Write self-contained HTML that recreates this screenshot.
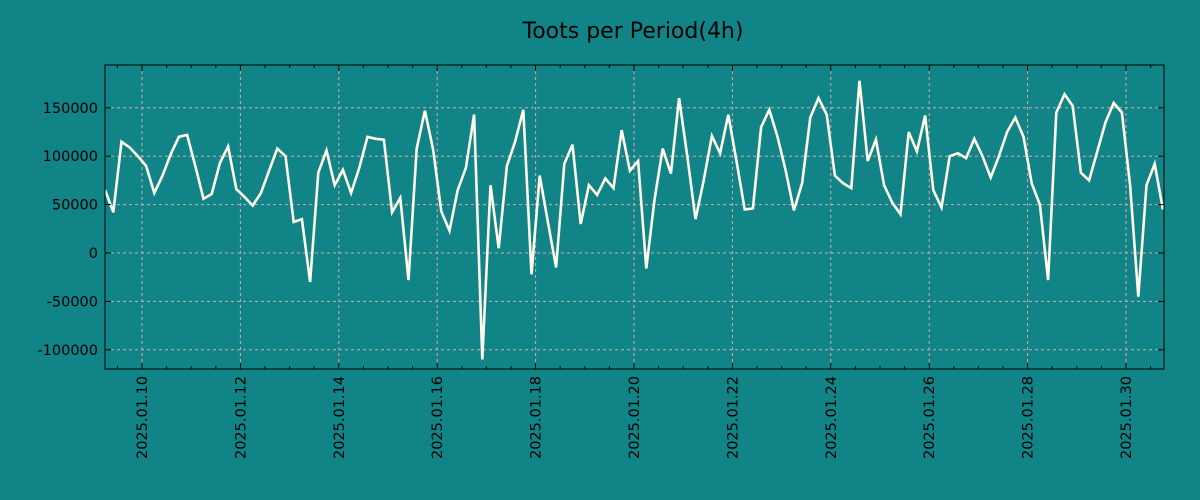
<!DOCTYPE html>
<html><head><meta charset="utf-8"><style>
body{margin:0;background:#108486;}
svg{display:block;font-family:"DejaVu Sans","Liberation Sans",sans-serif;}
</style></head><body>
<svg id="chart" width="1200" height="500" xmlns="http://www.w3.org/2000/svg">
<rect width="1200" height="500" fill="#108486"/>
<text x="633" y="38" text-anchor="middle" font-size="22" fill="#000">Toots per Period(4h)</text>
<g id="grid"></g><g id="series"></g><g id="axes"></g>
</svg>
<script>
const startDayOffset = -0.75; // days relative to 2025.01.10
const stepDays = 4/24;
const values = [65,42,115,109,100,90,62,80,102,120,122,90,56,61,93,110,66,58,49,62,85,108,100,32,35,-30,83,106,70,86,62,88,120,118,117,42,57,-28,108,147,107,43,23,65,88,143,-110,70,5,90,115,148,-22,80,32,-15,92,112,30,70,60,77,67,127,85,95,-16,55,108,82,160,100,35,75,121,103,143,95,45,46,130,148,120,85,44,72,140,160,143,80,72,67,178,95,117,70,52,40,125,105,142,65,47,100,103,98,118,100,78,100,125,140,120,72,50,-28,145,164,152,83,75,105,135,155,145,70,-45,70,92,45].map(v=>v*1000);
const yTicks = [-100000,-50000,0,50000,100000,150000];
const xTickLabels = ["2025.01.10","2025.01.12","2025.01.14","2025.01.16","2025.01.18","2025.01.20","2025.01.22","2025.01.24","2025.01.26","2025.01.28","2025.01.30"];
const xTickDays = [0,2,4,6,8,10,12,14,16,18,20];

const L=105,R=1164,T=65,B=369;
const xs=d=>142+d*49.2;
const ys=v=>253-v/50000*48.4;
const NS="http://www.w3.org/2000/svg";
function mk(tag,attrs,parent){const e=document.createElementNS(NS,tag);for(const k in attrs)e.setAttribute(k,attrs[k]);parent.appendChild(e);return e;}
const grid=document.getElementById('grid'),axes=document.getElementById('axes'),series=document.getElementById('series');
yTicks.forEach(v=>{
 const l=mk('line',{x1:L,x2:R,y1:ys(v),y2:ys(v),stroke:'#d8a8a8',"stroke-dasharray":'3,3',"stroke-width":1},grid);
 
 
 const t=mk('text',{x:L-7,y:ys(v)+5,"text-anchor":'end',"font-size":14.5,fill:'#000'},axes);
 t.textContent=v;
 
 
 mk('line',{x1:L,x2:L+6,y1:ys(v),y2:ys(v),stroke:'#000'},axes);
 mk('line',{x1:R,x2:R-6,y1:ys(v),y2:ys(v),stroke:'#000'},axes);
});
xTickDays.forEach((d,i)=>{
 const x=xs(d);
 const l=mk('line',{x1:x,x2:x,y1:T,y2:B,stroke:'#d8a8a8',"stroke-dasharray":'3,3',"stroke-width":1},grid);
 
 
 mk('line',{x1:x,x2:x,y1:B,y2:B-6,stroke:'#000'},axes);
 mk('line',{x1:x,x2:x,y1:T,y2:T+6,stroke:'#000'},axes);
 const t=mk('text',{x:0,y:0,"text-anchor":'end',"font-size":14.5,fill:'#000',transform:`translate(${x+5},${B+7}) rotate(-90)`},axes);
 t.textContent=xTickLabels[i];
 
 
});
for(let d=-0.5;d<=20.5;d+=0.5){if(Math.abs(d-Math.round(d/2)*2)<0.01)continue;const x=xs(d);if(x<L||x>R)continue;
 mk('line',{x1:x,x2:x,y1:B,y2:B-3,stroke:'#000'},axes);mk('line',{x1:x,x2:x,y1:T,y2:T+3,stroke:'#000'},axes);}
const pts=values.map((v,i)=>xs(startDayOffset+i*stepDays).toFixed(1)+','+ys(v).toFixed(1)).join(' ');
const cp=mk('clipPath',{id:'clip'},series);mk('rect',{x:L,y:T,width:R-L,height:B-T},cp);
const pl=mk('polyline',{points:pts,fill:'none',stroke:'#fffbe8',"stroke-width":2.6,"stroke-linejoin":'miter',"clip-path":'url(#clip)'},series);


const fr=mk('rect',{x:L,y:T,width:R-L,height:B-T,fill:'none',stroke:'#000',"stroke-width":1},axes);


</script>
</body></html>
